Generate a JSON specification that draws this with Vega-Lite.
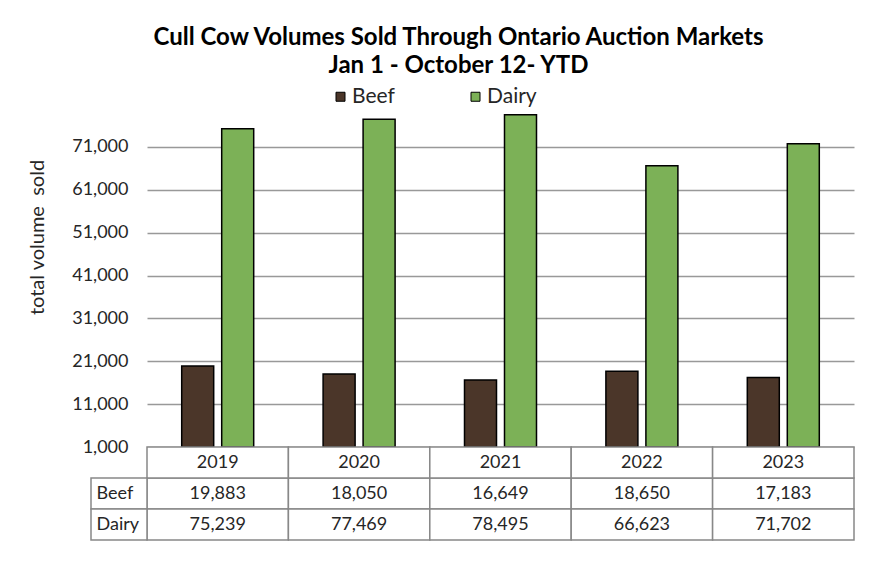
{
  "$schema": "https://vega.github.io/schema/vega-lite/v6.json",
  "width": 707,
  "height": 436,
  "autosize": {"type": "none"},
  "padding": {"left": 147, "top": 104, "right": 16, "bottom": 27},
  "background": "white",
  "config": {"view": {"stroke": null}, "font": "Lato"},
  "title": {
    "text": ["Cull Cow Volumes Sold Through Ontario Auction Markets", "Jan 1 - October 12- YTD"],
    "font": "Lato",
    "fontWeight": "bold",
    "fontSize": 24,
    "lineHeight": 28,
    "color": "black",
    "anchor": "middle",
    "frame": "group",
    "dx": -42,
    "offset": 8
  },
  "data": {
    "values": [
      {"year": "2019", "type": "Beef", "value": 19883},
      {"year": "2019", "type": "Dairy", "value": 75239},
      {"year": "2020", "type": "Beef", "value": 18050},
      {"year": "2020", "type": "Dairy", "value": 77469},
      {"year": "2021", "type": "Beef", "value": 16649},
      {"year": "2021", "type": "Dairy", "value": 78495},
      {"year": "2022", "type": "Beef", "value": 18650},
      {"year": "2022", "type": "Dairy", "value": 66623},
      {"year": "2023", "type": "Beef", "value": 17183},
      {"year": "2023", "type": "Dairy", "value": 71702}
    ]
  },
  "resolve": {"scale": {"x": "independent", "y": "independent", "xOffset": "independent"}},
  "layer": [
    {
      "mark": {"type": "bar", "stroke": "black", "strokeWidth": 1.5},
      "encoding": {
        "x": {"field": "year", "type": "nominal", "scale": {"paddingInner": 0, "paddingOuter": 0}, "axis": null},
        "xOffset": {"field": "type", "type": "nominal", "scale": {"domain": ["Beef", "Dairy"], "paddingInner": 0.2, "paddingOuter": 0.8675}},
        "y": {
          "field": "value",
          "type": "quantitative",
          "title": "total volume\u00a0 sold",
          "scale": {"domain": [1000, 81000], "range": [343, 0], "nice": false, "zero": false},
          "axis": {
            "values": [1000, 11000, 21000, 31000, 41000, 51000, 61000, 71000],
            "format": ",.0f",
            "domain": false,
            "ticks": false,
            "grid": true,
            "gridColor": "#999999",
            "gridWidth": 1.5,
            "labelFont": "Lato",
            "labelFontSize": 18,
            "labelColor": "#262626",
            "labelPadding": 19,
            "titleFont": "Lato",
            "titleFontSize": 20,
            "titleFontWeight": "normal",
            "titleColor": "#262626",
            "titleX": -110,
            "titleY": 133,
            "titleAngle": -90,
            "titleAlign": "center",
            "titleBaseline": "middle"
          }
        },
        "y2": {"datum": 1000},
        "color": {
          "field": "type",
          "type": "nominal",
          "scale": {"domain": ["Beef", "Dairy"], "range": ["#4b3629", "#7cb157"]},
          "legend": {
            "orient": "none",
            "legendX": 183,
            "legendY": -18,
            "direction": "horizontal",
            "title": null,
            "symbolType": "square",
            "symbolSize": 81,
            "symbolStrokeColor": "black",
            "symbolStrokeWidth": 1,
            "labelFont": "Lato",
            "labelFontSize": 21,
            "labelColor": "#262626",
            "labelOffset": 1,
            "columnPadding": 70,
            "padding": 0
          }
        }
      }
    },
    {
      "mark": {"type": "rect", "fill": "white", "stroke": "#888888", "strokeWidth": 1.5},
      "encoding": {
        "x": {"field": "year", "type": "nominal", "scale": {"paddingInner": 0, "paddingOuter": 0}, "axis": null},
        "y": {"field": "type", "type": "nominal", "scale": {"domain": ["hdr", "Beef", "Dairy"], "range": [343, 436], "paddingInner": 0, "paddingOuter": 0}, "axis": null}
      }
    },
    {
      "transform": [{"filter": "datum.type === 'Beef'"}],
      "mark": {"type": "rect", "fill": "white", "stroke": "#888888", "strokeWidth": 1.5},
      "encoding": {
        "x": {"field": "year", "type": "nominal", "scale": {"paddingInner": 0, "paddingOuter": 0}, "axis": null},
        "y": {"datum": "hdr", "type": "nominal", "scale": {"domain": ["hdr", "Beef", "Dairy"], "range": [343, 436], "paddingInner": 0, "paddingOuter": 0}, "axis": null}
      }
    },
    {
      "transform": [{"filter": "datum.type === 'Beef'"}],
      "mark": {"type": "text", "font": "Lato", "fontSize": 18, "color": "#262626", "baseline": "middle", "align": "center"},
      "encoding": {
        "x": {"field": "year", "type": "nominal", "scale": {"paddingInner": 0, "paddingOuter": 0}, "axis": null},
        "y": {"datum": "hdr", "type": "nominal", "scale": {"domain": ["hdr", "Beef", "Dairy"], "range": [343, 436], "paddingInner": 0, "paddingOuter": 0}, "axis": null},
        "text": {"field": "year", "type": "nominal"}
      }
    },
    {
      "mark": {"type": "text", "font": "Lato", "fontSize": 18, "color": "#262626", "baseline": "middle", "align": "center"},
      "encoding": {
        "x": {"field": "year", "type": "nominal", "scale": {"paddingInner": 0, "paddingOuter": 0}, "axis": null},
        "y": {"field": "type", "type": "nominal", "scale": {"domain": ["hdr", "Beef", "Dairy"], "range": [343, 436], "paddingInner": 0, "paddingOuter": 0}, "axis": null},
        "text": {"field": "value", "type": "quantitative", "format": ",.0f"}
      }
    },
    {
      "transform": [{"filter": "datum.year === '2019'"}],
      "mark": {"type": "rect", "fill": "white", "stroke": "#888888", "strokeWidth": 1.5},
      "encoding": {
        "x": {"datum": 0, "type": "quantitative", "scale": {"domain": [0, 1], "range": [-56, 0]}, "axis": null},
        "x2": {"datum": 1},
        "y": {"field": "type", "type": "nominal", "scale": {"domain": ["hdr", "Beef", "Dairy"], "range": [343, 436], "paddingInner": 0, "paddingOuter": 0}, "axis": null}
      }
    },
    {
      "transform": [{"filter": "datum.year === '2019'"}],
      "mark": {"type": "text", "font": "Lato", "fontSize": 18, "color": "#262626", "baseline": "middle", "align": "left"},
      "encoding": {
        "x": {"datum": 0.1, "type": "quantitative", "scale": {"domain": [0, 1], "range": [-56, 0]}, "axis": null},
        "y": {"field": "type", "type": "nominal", "scale": {"domain": ["hdr", "Beef", "Dairy"], "range": [343, 436], "paddingInner": 0, "paddingOuter": 0}, "axis": null},
        "text": {"field": "type", "type": "nominal"}
      }
    }
  ]
}
